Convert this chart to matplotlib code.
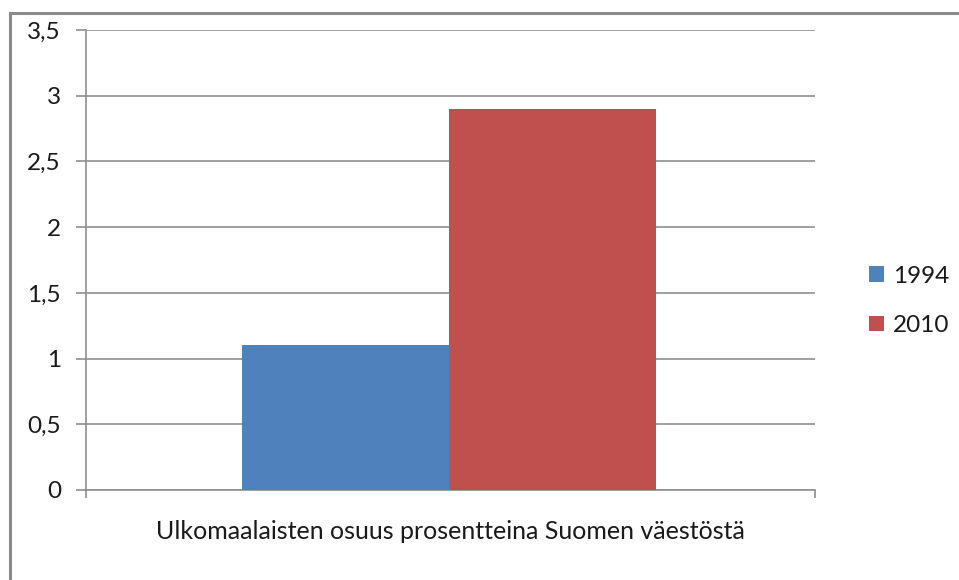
import matplotlib
matplotlib.use("Agg")
import matplotlib.pyplot as plt
from matplotlib.lines import Line2D

category = "Ulkomaalaisten osuus prosentteina Suomen väestöstä"
series = ["1994", "2010"]
values = [1.1, 2.9]
colors = ["#4F81BD", "#C0504D"]
yticks = [0, 0.5, 1, 1.5, 2, 2.5, 3, 3.5]
ytick_labels = ["0", "0,5", "1", "1,5", "2", "2,5", "3", "3,5"]

plt.rcParams['font.family'] = ['Lato', 'DejaVu Sans']
FS = 17.5
TXT = "#1a1a1a"
GRID = "#8f8f8f"

fig = plt.figure(figsize=(9.59, 5.8), dpi=100)
W, H = 959, 580
ax = fig.add_axes([86 / W, 1 - 490 / H, (815 - 86) / W, (490 - 30) / H])

bw = 0.284
offsets = [-bw / 2, bw / 2]
for s, v, c, o in zip(series, values, colors, offsets):
    ax.bar(o - 0.0015, v, width=bw, color=c, label=s, zorder=3)

ax.set_xlim(-0.5, 0.5)
ax.set_ylim(0, 3.5)
ax.set_yticks(yticks)
ax.set_yticklabels(ytick_labels, fontsize=FS, color=TXT)
ax.yaxis.grid(True, color=GRID, linewidth=1.2, zorder=0)
ax.set_xticks([-0.5, 0.5])
ax.set_xticklabels(["", ""])
for sp in ["top", "right"]:
    ax.spines[sp].set_visible(False)
ax.spines["left"].set_color(GRID)
ax.spines["bottom"].set_color(GRID)
ax.spines["left"].set_linewidth(1.2)
ax.spines["bottom"].set_linewidth(1.2)
ax.tick_params(axis="y", length=7, width=1.2, color=GRID, pad=11)
ax.tick_params(axis="x", length=6, width=1.2, color=GRID)
ax.set_xlabel(category, fontsize=18, color=TXT, labelpad=12)

leg = fig.legend(loc="center left", bbox_to_anchor=(869 / W, 1 - 301 / H),
                 frameon=False, fontsize=FS, handlelength=0.6, handleheight=0.6,
                 labelspacing=1.17, handletextpad=0.37, borderpad=0, borderaxespad=0)
for t in leg.get_texts():
    t.set_color(TXT)

# chart border (only top and left visible)
fig.add_artist(Line2D([10 / W, 10 / W], [0, 1 - 13 / H], transform=fig.transFigure,
                      color="#8a8a8a", linewidth=2.2))
fig.add_artist(Line2D([10 / W, 958 / W], [1 - 13 / H, 1 - 13 / H], transform=fig.transFigure,
                      color="#8a8a8a", linewidth=2.2))

fig.savefig("out.png", dpi=100)
